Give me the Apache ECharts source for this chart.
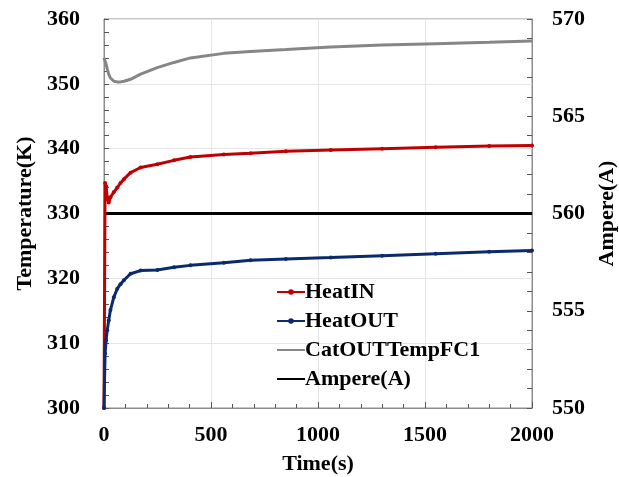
<!DOCTYPE html>
<html>
<head>
<meta charset="utf-8">
<script src="https://cdn.jsdelivr.net/npm/echarts@6/dist/echarts.min.js"></script>
<style>html,body{margin:0;padding:0;background:#fff}#c{width:619px;height:477px}</style>
</head>
<body>
<div id="c"></div>
<script>
const timeS = [0, 5, 10, 15, 22, 30, 46, 62, 77, 93, 124, 171, 249, 327, 404, 560, 685, 850, 1060, 1300, 1550, 1800, 2000];
const heatIN = [300, 334.7, 334.2, 332.5, 331.7, 332.5, 333.3, 334.0, 334.7, 335.3, 336.3, 337.1, 337.6, 338.2, 338.7, 339.1, 339.3, 339.6, 339.8, 340.0, 340.2, 340.4, 340.5];
const heatOUT = [300, 308.4, 310.5, 312, 313.5, 315.1, 317.1, 318.4, 319.1, 319.7, 320.7, 321.2, 321.3, 321.7, 322.0, 322.4, 322.8, 323.0, 323.2, 323.5, 323.8, 324.1, 324.3];
const catOUT = [354, 353.8, 353, 352.3, 351.5, 350.9, 350.4, 350.3, 350.3, 350.4, 350.7, 351.5, 352.5, 353.3, 354.0, 354.7, 355.0, 355.3, 355.7, 356.0, 356.2, 356.4, 356.6];
const ampTime = [0, 2000];
const ampere = [560, 560];
const xTicks = [0, 500, 1000, 1500, 2000];
const leftTicks = [300, 310, 320, 330, 340, 350, 360];
const rightTicks = [550, 555, 560, 565, 570];

const pair = (xs, ys) => xs.map((x, i) => [x, ys[i]]);
const font = 'Liberation Serif, Times New Roman, serif';
const axisGray = '#8c8c8c';
const lbl = {color: '#000', fontFamily: font, fontWeight: 'bold', fontSize: 22};

const chart = echarts.init(document.getElementById('c'));
chart.setOption({
  animation: false,
  backgroundColor: '#fff',
  grid: {left: 104, right: 87, top: 19, bottom: 69, show: true, borderColor: axisGray, borderWidth: 1, outerBoundsMode: 'none', containLabel: false},
  legend: {
    orient: 'vertical', left: 271, top: 276, itemWidth: 28, itemHeight: 7, itemGap: 7,
    textStyle: Object.assign({}, lbl, {padding: [0, 0, 0, -5]}),
    data: [
      {name: 'HeatIN'},
      {name: 'HeatOUT'},
      {name: 'CatOUTTempFC1', itemStyle: {opacity: 0}},
      {name: 'Ampere(A)', itemStyle: {opacity: 0}}
    ]
  },
  xAxis: {
    type: 'value', min: 0, max: 2000, interval: 500,
    name: 'Time(s)', nameLocation: 'middle', nameGap: 45, nameTextStyle: lbl,
    axisLine: {lineStyle: {color: axisGray}},
    axisTick: {inside: true, length: 6, lineStyle: {color: '#555'}},
    minorTick: {show: true, splitNumber: 5, length: 4, lineStyle: {color: '#555'}},
    axisLabel: Object.assign({margin: 16, formatter: v => xTicks.includes(v) ? String(v) : ''}, lbl),
    splitLine: {show: true, lineStyle: {color: '#e6e6e6'}}
  },
  yAxis: [{
    type: 'value', min: 300, max: 360, interval: 10,
    name: 'Temperature(K)', nameLocation: 'middle', nameGap: 67, nameTextStyle: lbl,
    axisLine: {show: true, lineStyle: {color: axisGray}},
    axisTick: {show: true, inside: true, length: 5, lineStyle: {color: '#555'}},
    minorTick: {show: true, splitNumber: 5, length: 5, lineStyle: {color: '#555'}},
    axisLabel: Object.assign({margin: 24, formatter: v => leftTicks.includes(v) ? String(v) : ''}, lbl),
    splitLine: {show: true, lineStyle: {color: '#e6e6e6'}}
  }, {
    type: 'value', min: 550, max: 570, interval: 5,
    name: 'Ampere(A)', nameLocation: 'middle', nameGap: 60, nameTextStyle: lbl, nameRotate: 90,
    axisLine: {show: true, lineStyle: {color: axisGray}},
    axisTick: {show: true, inside: true, length: 5, lineStyle: {color: '#555'}},
    minorTick: {show: true, splitNumber: 5, length: 5, lineStyle: {color: '#555'}},
    axisLabel: Object.assign({margin: 20, formatter: v => rightTicks.includes(v) ? String(v) : ''}, lbl),
    splitLine: {show: false}
  }],
  series: [{
    name: 'HeatIN', type: 'line', data: pair(timeS, heatIN), color: '#c00000',
    symbol: 'circle', symbolSize: 4, showSymbol: true, lineStyle: {width: 3}, z: 3
  }, {
    name: 'HeatOUT', type: 'line', data: pair(timeS, heatOUT), color: '#0b2a6e',
    symbol: 'circle', symbolSize: 4, showSymbol: true, lineStyle: {width: 3}, z: 3
  }, {
    name: 'CatOUTTempFC1', type: 'line', data: pair(timeS, catOUT), color: '#868686',
    symbol: 'none', lineStyle: {width: 3}, z: 2
  }, {
    name: 'Ampere(A)', type: 'line', yAxisIndex: 1, data: pair(ampTime, ampere), color: '#000',
    symbol: 'none', lineStyle: {width: 3}, z: 2
  }]
});
</script>
</body>
</html>
